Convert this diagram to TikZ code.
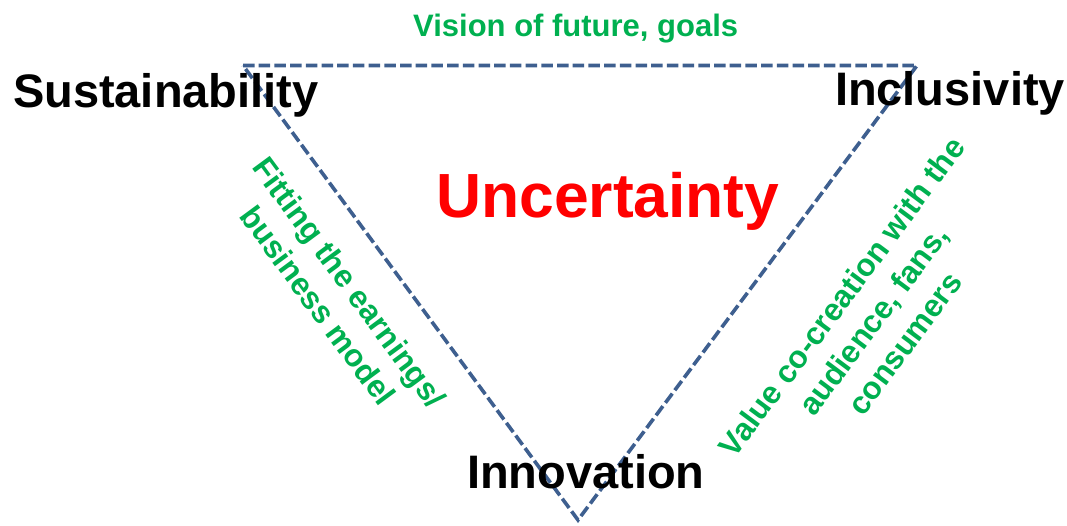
\documentclass[tikz,border=0pt]{standalone}
\usepackage{fontspec}
\setmainfont{Liberation Sans}
\definecolor{tgreen}{HTML}{00B050}
\definecolor{tred}{HTML}{FF0000}
\definecolor{tblue}{HTML}{3E5F8F}
\begin{document}
\begin{tikzpicture}[x=1pt,y=-1pt,
  corner/.style={inner sep=0pt,outer sep=0pt,anchor=base west,font=\bfseries\fontsize{47}{56}\selectfont,text=black},
  side/.style={inner sep=0pt,outer sep=0pt,align=center,font=\bfseries\fontsize{31.5}{39}\selectfont,text=tgreen},
  edge/.style={draw=tblue,line width=3.6pt,dash pattern=on 11.5pt off 4.2pt}]
\useasboundingbox (0,0) rectangle (1067,525);
\coordinate (A) at (243,65.5);
\coordinate (B) at (917,65.5);
\coordinate (C) at (578,520);
\draw[edge] (A) -- (B) -- (C) -- cycle;
\node[corner] (sus) at (13,107) {Sustainability};
\node[corner] (inc) at (835,105) {Inclusivity};
\node[corner] (inn) at (467,488) {Innovation};
\node[inner sep=0pt,anchor=base west,font=\bfseries\fontsize{31}{38}\selectfont,text=tgreen] (vis) at (413,36) {Vision of future, goals};
\node[inner sep=0pt,anchor=base west,font=\bfseries\fontsize{62.4}{75}\selectfont,text=tred] (unc) at (436,217) {Uncertainty};
\node[side,rotate=-53.6] (fit) at (334,294) {Fitting the earnings/\\business model};
\node[side,rotate=53.3] (val) at (873,320) {Value co-creation with the\\audience, fans,\\consumers};
\end{tikzpicture}
\end{document}
